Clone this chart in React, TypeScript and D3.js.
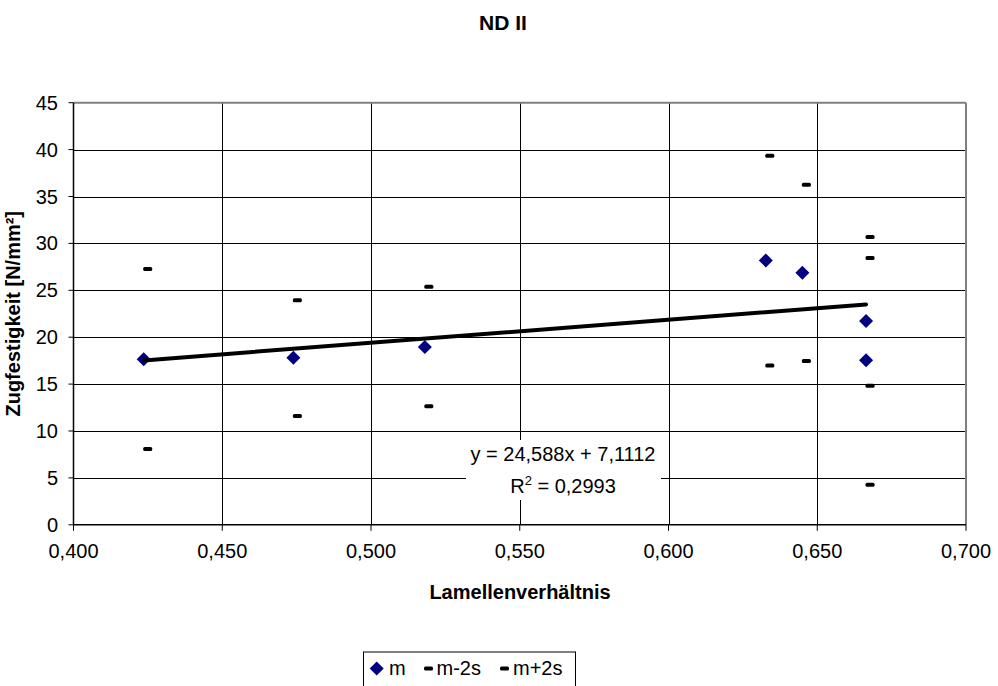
import React from "react";
import * as d3 from "d3";

const xVals = [0.4236, 0.4739, 0.5181, 0.6327, 0.645, 0.6664, 0.6664];
const mVals = [17.64, 17.82, 18.95, 28.19, 26.88, 21.72, 17.53];
const mMinus2s = [8.08, 11.6, 12.63, 16.97, 17.46, 14.83, 4.28];
const mPlus2s = [27.27, 23.93, 25.39, 39.35, 36.26, 28.44, 30.68];
const xTicks = [0.4, 0.45, 0.5, 0.55, 0.6, 0.65, 0.7];
const yTicks = [0, 5, 10, 15, 20, 25, 30, 35, 40, 45];
const trendSlope = 24.588;
const trendIntercept = 7.1112;
const legendItems = ["m", "m-2s", "m+2s"];

const W = 998;
const H = 686;
const L = 73.5;
const R = 966;
const T = 102.7;
const B = 524.8;
const FONT = "'Liberation Sans', Arial, sans-serif";

export default function App() {
  const x = d3.scaleLinear().domain([0.4, 0.7]).range([L, R]);
  const y = d3.scaleLinear().domain([0, 45]).range([B, T]);
  const fmtX = (v: number) => d3.format(".3f")(v).replace(".", ",");
  const xMin = d3.min(xVals) as number;
  const xMax = d3.max(xVals) as number;
  const line = d3
    .line<number>()
    .x((d) => x(d))
    .y((d) => y(trendSlope * d + trendIntercept));
  const diamond = (cx: number, cy: number, r = 7) =>
    `M${cx},${cy - r}L${cx + r},${cy}L${cx},${cy + r}L${cx - r},${cy}Z`;
  const dash = (cx: number, cy: number, k: string) => (
    <rect key={k} x={cx - 0.5} y={cy - 2} width={9} height={4} rx={1.5} fill="#000" />
  );

  return (
    <svg
      width={W}
      height={H}
      style={{ position: "absolute", left: 0, top: 0, background: "#fff" }}
      fontFamily={FONT}
    >
      <rect x={0} y={0} width={W} height={H} fill="#fff" />
      {/* gridlines */}
      {yTicks.filter((t) => t > 0 && t < 45).map((t) => (
        <line key={"gy" + t} x1={L} x2={R} y1={Math.round(y(t)) + 0.5} y2={Math.round(y(t)) + 0.5} stroke="#000" strokeWidth={1} />
      ))}
      {xTicks.filter((t) => t > 0.41 && t < 0.69).map((t) => (
        <line key={"gx" + t} x1={Math.round(x(t)) + 0.5} x2={Math.round(x(t)) + 0.5} y1={T} y2={B} stroke="#000" strokeWidth={1} />
      ))}
      {/* plot border top/right */}
      <line x1={L} x2={R} y1={T} y2={T} stroke="#808080" strokeWidth={2} />
      <line x1={R} x2={R} y1={T} y2={B} stroke="#808080" strokeWidth={2} />
      {/* axes */}
      <line x1={L} x2={L} y1={T} y2={B} stroke="#000" strokeWidth={1.5} />
      <line x1={L} x2={R} y1={B} y2={B} stroke="#000" strokeWidth={1.5} />
      {yTicks.map((t) => (
        <g key={"ty" + t}>
          <line x1={L - 5} x2={L} y1={y(t)} y2={y(t)} stroke="#000" strokeWidth={1} />
          <text x={58} y={y(t) + 7} textAnchor="end" fontSize={20} fill="#000">
            {t}
          </text>
        </g>
      ))}
      {xTicks.map((t) => (
        <g key={"tx" + t}>
          <line x1={x(t)} x2={x(t)} y1={B} y2={B + 6} stroke="#000" strokeWidth={1} />
          <text x={x(t)} y={558} textAnchor="middle" fontSize={20} fill="#000">
            {fmtX(t)}
          </text>
        </g>
      ))}
      {/* equation box */}
      <rect x={466} y={440} width={195} height={60} fill="#fff" />
      <text x={563} y={461} textAnchor="middle" fontSize={20} fill="#000">
        y = 24,588x + 7,1112
      </text>
      <text x={563} y={493} textAnchor="middle" fontSize={20} fill="#000">
        R<tspan dy={-8} fontSize={13}>2</tspan>
        <tspan dy={8}> = 0,2993</tspan>
      </text>
      {/* markers */}
      {xVals.map((v, i) => dash(x(v), y(mMinus2s[i]), "mn" + i))}
      {xVals.map((v, i) => dash(x(v), y(mPlus2s[i]), "mp" + i))}
      {xVals.map((v, i) => (
        <path key={"d" + i} d={diamond(x(v), y(mVals[i]))} fill="#000080" />
      ))}
      {/* trendline */}
      <path d={line([xMin, xMax]) || ""} stroke="#000" strokeWidth={4} fill="none" strokeLinecap="round" />
      {/* titles */}
      <text x={503} y={30} textAnchor="middle" fontSize={21} fontWeight="bold" fill="#000">
        ND II
      </text>
      <text x={520} y={599} textAnchor="middle" fontSize={20} fontWeight="bold" fill="#000">
        Lamellenverhältnis
      </text>
      <text
        transform={`translate(20,${(T + B) / 2}) rotate(-90)`}
        textAnchor="middle"
        fontSize={20}
        fontWeight="bold"
        fill="#000"
      >
        Zugfestigkeit [N/mm²]
      </text>
      {/* legend */}
      <rect x={363.5} y={652} width={212} height={40} fill="#fff" stroke="#000" strokeWidth={1} />
      <path d={diamond(376.7, 668.5)} fill="#000080" />
      <text x={389} y={675} fontSize={20} fill="#000">{legendItems[0]}</text>
      {dash(424.5, 668.5, "lg1")}
      <text x={436.5} y={675} fontSize={20} fill="#000">{legendItems[1]}</text>
      {dash(500.5, 668.5, "lg2")}
      <text x={513} y={675} fontSize={20} fill="#000">{legendItems[2]}</text>
    </svg>
  );
}
